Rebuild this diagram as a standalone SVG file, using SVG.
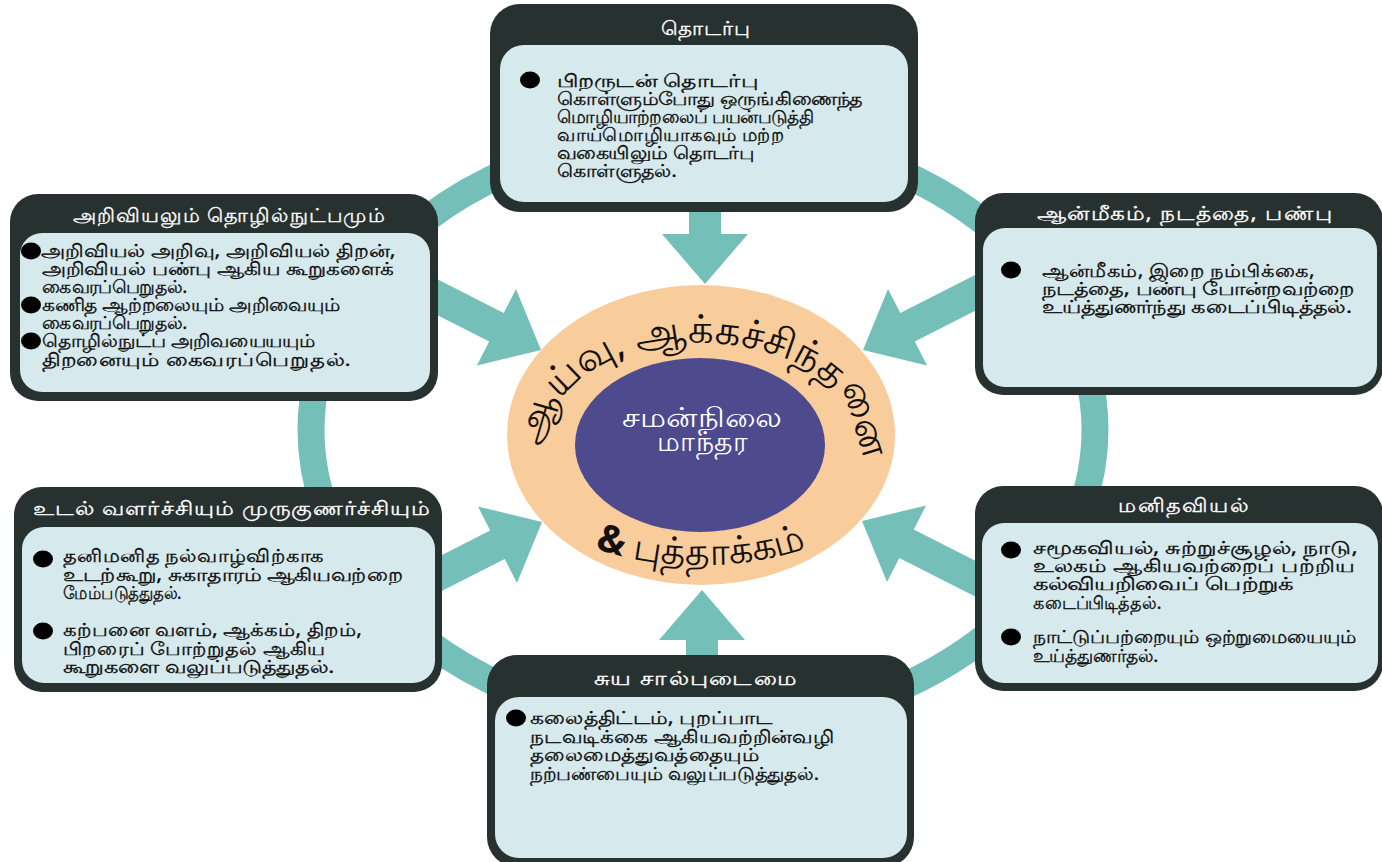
<svg xmlns="http://www.w3.org/2000/svg" width="1382" height="862" viewBox="0 0 1382 862">
<defs>
<style>
.outer{fill:#27312f}
.inner{fill:#d6e9ed}
.hdr{font-family:"Noto Sans","DejaVu Sans",sans-serif;font-size:19px;fill:#ffffff;text-anchor:middle;letter-spacing:1px;stroke:#ffffff;stroke-width:0.3px}
.body{font-family:"Noto Sans","DejaVu Sans",sans-serif;font-size:18px;fill:#0a0a0a;stroke:#0a0a0a;stroke-width:0.3px}
.bul{fill:#000000}
.arrow{fill:#74c0b8}
.ctr{font-family:"Noto Sans","DejaVu Sans",sans-serif;fill:#ffffff;text-anchor:middle;font-size:27px}
.ring{font-family:"Noto Sans","DejaVu Sans",sans-serif;fill:#111111;font-size:40px}
</style>
<polygon id="arr" points="0,0 -50,-43 -50,-16 -140,-16 -140,16 -50,16 -50,43"/>
<path id="topArc" d="M546.5,448 A155,97 0 1 1 852.7,460"/>
<path id="botArc" d="M520,506 A213,125 0 0 0 882,506"/>
</defs>
<rect width="1382" height="862" fill="#ffffff"/>
<g id="connectors">
<ellipse cx="703" cy="430" rx="392" ry="298" fill="none" stroke="#74c0b8" stroke-width="27"/>
<use href="#arr" class="arrow" transform="translate(705,284) rotate(90)"/>
<use href="#arr" class="arrow" transform="translate(702,590) rotate(-90)"/>
<use href="#arr" class="arrow" transform="translate(541,350) rotate(27)"/>
<use href="#arr" class="arrow" transform="translate(542,522) rotate(-27)"/>
<use href="#arr" class="arrow" transform="translate(863,350) rotate(153)"/>
<use href="#arr" class="arrow" transform="translate(862,521) rotate(-153)"/>
</g>
<g id="center">
<ellipse cx="701" cy="435" rx="194" ry="150" fill="#f9cc9c"/>
<ellipse cx="700" cy="445" rx="125" ry="87" fill="#4d4a8e"/>
<text class="ctr" transform="translate(702,427) scale(1.2,1)">சமன்நிலை</text>
<text class="ctr" transform="translate(702,451) scale(1.05,1)">மாந்தர</text>
<text class="ring"><textPath href="#topArc" startOffset="50%" text-anchor="middle">ஆய்வு, ஆக்கச்சிந்தனை</textPath></text>
<text class="ring" style="font-size:38px"><textPath href="#botArc" startOffset="50%" text-anchor="middle"><tspan font-weight="bold">&amp;</tspan> புத்தாக்கம்</textPath></text>
</g>
<g id="node-top">
<rect class="outer" x="490" y="4" width="428" height="208" rx="30"/>
<rect class="inner" x="500" y="45" width="408" height="157" rx="24"/>
<text class="hdr" transform="translate(706,35) scale(1.13,1)">தொடர்பு</text>
<ellipse class="bul" cx="530" cy="80" rx="10" ry="8.5"/>
<text class="body" transform="translate(557,87) scale(1.31,1)">பிறருடன் தொடர்பு</text>
<text class="body" transform="translate(557,105) scale(1.16,1)">கொள்ளும்போது ஒருங்கிணைந்த</text>
<text class="body" transform="translate(557,123) scale(1.03,1)">மொழியாற்றலைப் பயன்படுத்தி</text>
<text class="body" transform="translate(557,141) scale(1.07,1)">வாய்மொழியாகவும் மற்ற</text>
<text class="body" transform="translate(557,159) scale(1.16,1)">வகையிலும் தொடர்பு</text>
<text class="body" transform="translate(557,177) scale(1.15,1)">கொள்ளுதல்.</text>
</g>
<g id="node-science">
<rect class="outer" x="10" y="194" width="428" height="207" rx="28"/>
<rect class="inner" x="20" y="233" width="410" height="159" rx="22"/>
<text class="hdr" transform="translate(229,222) scale(1.1,1)">அறிவியலும் தொழில்நுட்பமும்</text>
<ellipse class="bul" cx="31" cy="251" rx="10" ry="8.5"/>
<ellipse class="bul" cx="31" cy="305" rx="10" ry="8.5"/>
<ellipse class="bul" cx="31" cy="341" rx="10" ry="8.5"/>
<text class="body" transform="translate(41,257) scale(1.21,1)">அறிவியல் அறிவு, அறிவியல் திறன்,</text>
<text class="body" transform="translate(42,275) scale(1.2,1)">அறிவியல் பண்பு ஆகிய கூறுகளைக்</text>
<text class="body" transform="translate(42,293) scale(1.05,1)">கைவரப்பெறுதல்.</text>
<text class="body" transform="translate(42,311) scale(1.13,1)">கணித ஆற்றலையும் அறிவையும்</text>
<text class="body" transform="translate(42,329) scale(1.05,1)">கைவரப்பெறுதல்.</text>
<text class="body" transform="translate(42,347) scale(1.13,1)">தொழில்நுட்ப அறிவயையயும்</text>
<text class="body" transform="translate(42,366) scale(1.27,1)">திறனையும் கைவரப்பெறுதல்.</text>
</g>
<g id="node-spiritual">
<rect class="outer" x="975" y="193" width="408" height="202" rx="28"/>
<rect class="inner" x="983" y="228" width="394" height="159" rx="22"/>
<text class="hdr" transform="translate(1185,220) scale(1.22,1)">ஆன்மீகம், நடத்தை, பண்பு</text>
<ellipse class="bul" cx="1011" cy="270" rx="10" ry="8.5"/>
<text class="body" transform="translate(1042,277) scale(1.17,1)">ஆன்மீகம், இறை நம்பிக்கை,</text>
<text class="body" transform="translate(1042,295) scale(1.25,1)">நடத்தை, பண்பு போன்றவற்றை</text>
<text class="body" transform="translate(1042,313) scale(1.25,1)">உய்த்துணர்ந்து கடைப்பிடித்தல்.</text>
</g>
<g id="node-physical">
<rect class="outer" x="14" y="487" width="428" height="205" rx="28"/>
<rect class="inner" x="22" y="527" width="413" height="156" rx="22"/>
<text class="hdr" transform="translate(232,515) scale(1.23,1)">உடல் வளர்ச்சியும் முருகுணர்ச்சியும்</text>
<ellipse class="bul" cx="43" cy="559" rx="10" ry="8.5"/>
<ellipse class="bul" cx="43" cy="631" rx="10" ry="8.5"/>
<text class="body" transform="translate(63,562) scale(1.17,1)">தனிமனித நல்வாழ்விற்காக</text>
<text class="body" transform="translate(63,581) scale(1.23,1)">உடற்கூறு, சுகாதாரம் ஆகியவற்றை</text>
<text class="body" transform="translate(63,599) scale(0.92,1)">மேம்படுத்துதல்.</text>
<text class="body" transform="translate(63,636) scale(1.18,1)">கற்பனை வளம், ஆக்கம், திறம்,</text>
<text class="body" transform="translate(63,655) scale(1.17,1)">பிறரைப் போற்றுதல் ஆகிய</text>
<text class="body" transform="translate(63,673) scale(1.25,1)">கூறுகளை வலுப்படுத்துதல்.</text>
</g>
<g id="node-humanities">
<rect class="outer" x="975" y="486" width="408" height="205" rx="28"/>
<rect class="inner" x="982" y="523" width="396" height="160" rx="22"/>
<text class="hdr" transform="translate(1184,512) scale(1.18,1)">மனிதவியல்</text>
<ellipse class="bul" cx="1011" cy="550" rx="10" ry="8.5"/>
<ellipse class="bul" cx="1011" cy="637" rx="10" ry="8.5"/>
<text class="body" transform="translate(1033,554) scale(1.3,1)">சமூகவியல், சுற்றுச்சூழல், நாடு,</text>
<text class="body" transform="translate(1033,572) scale(1.28,1)">உலகம் ஆகியவற்றைப் பற்றிய</text>
<text class="body" transform="translate(1033,590) scale(1.35,1)">கல்வியறிவைப் பெற்றுக்</text>
<text class="body" transform="translate(1033,609) scale(0.98,1)">கடைப்பிடித்தல்.</text>
<text class="body" transform="translate(1033,643) scale(1.13,1)">நாட்டுப்பற்றையும் ஒற்றுமையையும்</text>
<text class="body" transform="translate(1033,662) scale(1.04,1)">உய்த்துணர்தல்.</text>
</g>
<g id="node-self">
<rect class="outer" x="487" y="655" width="427" height="212" rx="30"/>
<rect class="inner" x="495" y="697" width="412" height="161" rx="24"/>
<text class="hdr" transform="translate(696,685) scale(1.28,1)">சுய சால்புடைமை</text>
<ellipse class="bul" cx="516" cy="718" rx="10" ry="8.5"/>
<text class="body" transform="translate(530,724) scale(1.22,1)">கலைத்திட்டம், புறப்பாட</text>
<text class="body" transform="translate(530,743) scale(1.2,1)">நடவடிக்கை ஆகியவற்றின்வழி</text>
<text class="body" transform="translate(530,761) scale(1.2,1)">தலைமைத்துவத்தையும்</text>
<text class="body" transform="translate(530,780) scale(1.11,1)">நற்பண்பையும் வலுப்படுத்துதல்.</text>
</g>
</svg>
